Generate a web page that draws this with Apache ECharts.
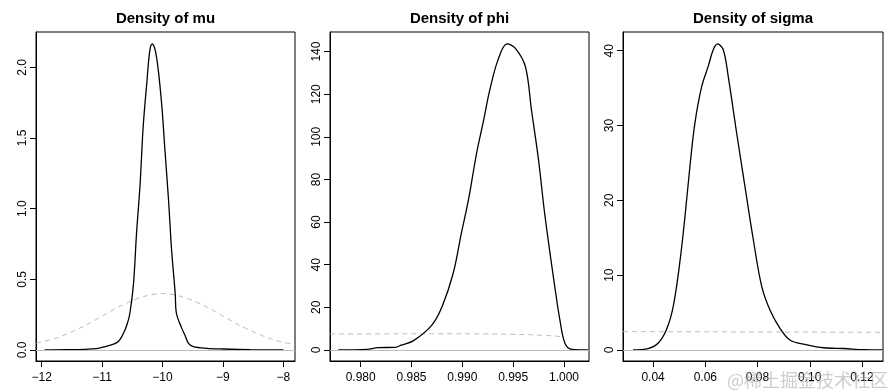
<!DOCTYPE html>
<html><head><meta charset="utf-8">
<script src="https://cdn.jsdelivr.net/npm/echarts@6/dist/echarts.min.js"></script>
<style>html,body{margin:0;padding:0;background:#fff}#c{width:894px;height:392px}</style>
</head><body><div id="c"></div>
<script>
// ---- data ----
const titles = ['Density of mu', 'Density of phi', 'Density of sigma'];

const muX = [-11.95, -11.59, -11.09, -10.95, -10.81, -10.73, -10.66, -10.59, -10.54, -10.48, -10.43, -10.37, -10.32, -10.26, -10.21, -10.17, -10.12, -10.07, -10.01, -9.96, -9.90, -9.85, -9.79, -9.77, -9.68, -9.63, -9.57, -9.49, -9.27, -8.99, -8.55, -8.0];
const muY = [0.001, 0.002, 0.01, 0.024, 0.042, 0.06, 0.106, 0.177, 0.26, 0.47, 0.825, 1.18, 1.58, 1.89, 2.12, 2.165, 2.12, 1.98, 1.72, 1.415, 1.06, 0.71, 0.40, 0.26, 0.153, 0.106, 0.047, 0.024, 0.012, 0.007, 0.002, 0.0];
const muPriorX = [-12.09, -11.75, -11.5, -11.25, -11.0, -10.75, -10.5, -10.25, -10.0, -9.75, -9.5, -9.25, -9.0, -8.75, -8.5, -8.25, -8.0, -7.81];
const muPriorY = [0.048, 0.085, 0.13, 0.18, 0.24, 0.30, 0.35, 0.385, 0.40, 0.385, 0.35, 0.30, 0.24, 0.18, 0.13, 0.085, 0.054, 0.04];

const phiX = [0.9778, 0.9806, 0.9817, 0.9834, 0.9840, 0.9852, 0.9870, 0.9880, 0.9891, 0.9899, 0.9906, 0.9914, 0.9921, 0.9927, 0.9935, 0.9944, 0.9952, 0.9962, 0.9968, 0.9975, 0.9981, 0.9990, 0.9996, 1.0001, 1.0008, 1.0024];
const phiY = [0, 0.3, 1.1, 1.25, 2.3, 4.4, 11.7, 20.3, 36, 54.7, 70.4, 92.3, 108, 122, 136, 143.6, 141.6, 133, 112.6, 89, 64, 32.8, 14, 3.1, 0.3, 0];
const phiPriorX = [0.977, 0.980, 0.985, 0.990, 0.994, 0.997, 0.999, 1.000];
const phiPriorY = [7.5, 7.55, 7.6, 7.6, 7.45, 7.1, 6.6, 6.1];

const sigX = [0.0323, 0.0381, 0.0419, 0.0451, 0.0477, 0.0502, 0.0522, 0.0541, 0.0560, 0.0586, 0.0611, 0.0630, 0.0647, 0.0669, 0.0688, 0.0720, 0.0752, 0.0784, 0.0816, 0.0848, 0.0886, 0.0925, 0.0989, 0.1053, 0.113, 0.1206, 0.128];
const sigY = [0, 0.2, 0.9, 2.7, 5.8, 11.6, 17.8, 24.5, 30.3, 35.2, 37.9, 40.1, 40.9, 40.1, 36.5, 29, 21.8, 14.7, 8.5, 5.3, 2.9, 1.3, 0.7, 0.3, 0.2, 0.05, 0];
const sigPriorX = [0.0285, 0.06, 0.09, 0.128];
const sigPriorY = [2.46, 2.43, 2.40, 2.36];

const xTicks = [[-12, -11, -10, -9, -8], [0.980, 0.985, 0.990, 0.995, 1.000], [0.04, 0.06, 0.08, 0.10, 0.12]];
const yTicks = [[0, 0.5, 1.0, 1.5, 2.0], [0, 20, 40, 60, 80, 100, 120, 140], [0, 10, 20, 30, 40]];
const xDigits = [0, 3, 2];
const yDigits = [1, 0, 0];

// ---- layout ----
const boxes = [{l: 36, w: 259}, {l: 330, w: 259}, {l: 623, w: 260}];
const TOP = 32, H = 329;
const xRange = [[-12.094, -7.807], [0.97698, 1.00246], [0.02848, 0.12804]];
const yRange = [[-0.0778, 2.25], [-5.16, 149.2], [-1.47, 42.5]];

const zip = (a, b) => a.map((v, i) => [v, b[i]]);
const fmt = (v, d) => (v < 0 ? '\u2212' : '') + Math.abs(v).toFixed(d);
const FONT = 'Liberation Sans, Arial, sans-serif';

const grid = [], xAxis = [], yAxis = [], series = [], graphic = [];
const dens = [[muX, muY, muPriorX, muPriorY], [phiX, phiY, phiPriorX, phiPriorY], [sigX, sigY, sigPriorX, sigPriorY]];

for (let i = 0; i < 3; i++) {
  grid.push({left: boxes[i].l, top: TOP, width: boxes[i].w, height: H, show: true, borderColor: '#000', borderWidth: 1, backgroundColor: 'transparent'});
  xAxis.push({
    type: 'value', gridIndex: i, min: xRange[i][0], max: xRange[i][1],
    axisLine: {show: true, onZero: false, lineStyle: {color: '#000', width: 1}},
    axisTick: {show: true, length: 6, customValues: xTicks[i], lineStyle: {color: '#000'}},
    axisLabel: {customValues: xTicks[i], margin: 11, color: '#000', fontSize: 12, fontFamily: FONT,
      formatter: (function (d) { return v => fmt(v, d); })(xDigits[i])},
    splitLine: {show: false}
  });
  yAxis.push({
    type: 'value', gridIndex: i, min: yRange[i][0], max: yRange[i][1],
    axisLine: {show: true, onZero: false, lineStyle: {color: '#000', width: 1}},
    axisTick: {show: true, length: 6, customValues: yTicks[i], lineStyle: {color: '#000'}},
    axisLabel: {customValues: yTicks[i], rotate: 90, margin: 7, color: '#000', fontSize: 12, fontFamily: FONT,
      formatter: (function (d) { return v => fmt(v, d); })(yDigits[i])},
    splitLine: {show: false}
  });
  const d = dens[i];
  series.push({
    type: 'line', xAxisIndex: i, yAxisIndex: i, data: zip(d[2], d[3]), smooth: 0.3, symbol: 'none', z: 2,
    lineStyle: {color: '#bdbdbd', width: 1, type: [5, 4]}, silent: true,
    markLine: {silent: true, symbol: 'none', label: {show: false}, lineStyle: {color: '#bdbdbd', width: 1, type: 'solid'}, data: [{yAxis: 0}]}
  });
  series.push({
    type: 'line', xAxisIndex: i, yAxisIndex: i, data: zip(d[0], d[1]), smooth: 0.35, symbol: 'none', z: 3,
    lineStyle: {color: '#000', width: 1.3}, silent: true
  });
  graphic.push({type: 'text', x: boxes[i].l + boxes[i].w / 2, y: 19,
    style: {text: titles[i], fill: '#000', font: 'bold 15px ' + FONT, textAlign: 'center', textVerticalAlign: 'middle'}});
}
graphic.push({type: 'text', x: 727, y: 380, z: 100,
  style: {text: '@稀土掘金技术社区', fill: 'rgba(170,170,170,0.6)', font: '18px "Noto Sans CJK SC", sans-serif', textAlign: 'left', textVerticalAlign: 'middle'}});

const chart = echarts.init(document.getElementById('c'), null, {renderer: 'canvas'});
chart.setOption({animation: false, backgroundColor: '#fff', grid, xAxis, yAxis, series, graphic});
</script></body></html>
